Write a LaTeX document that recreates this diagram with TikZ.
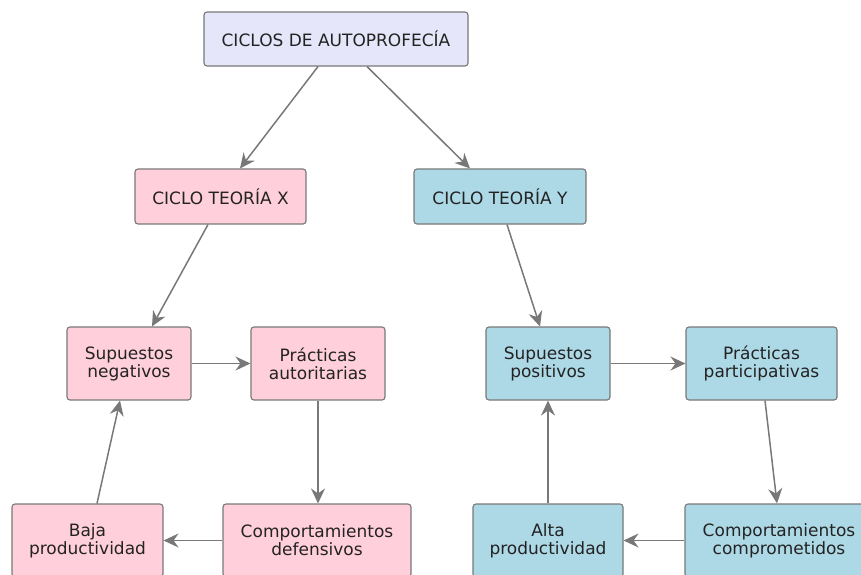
\documentclass[tikz,border=0pt]{standalone}
\usepackage{fontspec}
\setmainfont{DejaVu Sans}
\usetikzlibrary{arrows.meta}
\definecolor{lavbox}{RGB}{230,230,250}
\definecolor{pinkbox}{RGB}{255,207,219}
\definecolor{bluebox}{RGB}{173,216,230}
\definecolor{edgegray}{RGB}{120,120,120}
\definecolor{linegray}{RGB}{120,120,120}
\definecolor{txt}{RGB}{35,35,35}
\tikzset{
  box/.style={draw=edgegray, line width=1.1pt, rounded corners=3pt, align=center,
    inner sep=0pt, text=txt, font=\fontsize{17}{18}\selectfont},
  topbox/.style={box, fill=lavbox},
  xbox/.style={box, fill=pinkbox},
  ybox/.style={box, fill=bluebox},
  conn/.style={draw=linegray, line width=1.5pt,
    -{Stealth[length=15pt, width=14pt, inset=5pt]}}
}
\begin{document}
\begin{tikzpicture}[x=1pt, y=-1pt]
\useasboundingbox (0,0) rectangle (861,574);

% title
\node[topbox, minimum width=264pt, minimum height=54pt] (top) at (336,39) {CICLOS DE AUTOPROFECÍA};

% the two cycles
\node[xbox, minimum width=171pt, minimum height=55pt] (cx) at (220.5,196.5) {CICLO TEORÍA X};
\node[ybox, minimum width=172pt, minimum height=55pt] (cy) at (500,196.5) {CICLO TEORÍA Y};

% theory X loop
\node[xbox, minimum width=124pt, minimum height=73pt] (sn) at (129,363.5) {Supuestos\\negativos};
\node[xbox, minimum width=134pt, minimum height=73pt] (pa) at (318,363.5) {Prácticas\\autoritarias};
\node[xbox, minimum width=188pt, minimum height=73pt] (cd) at (317,540.5) {Comportamientos\\defensivos};
\node[xbox, minimum width=151pt, minimum height=73pt] (bp) at (87.5,540.5) {Baja\\productividad};

% theory Y loop
\node[ybox, minimum width=124pt, minimum height=73pt] (sp) at (548,363.5) {Supuestos\\positivos};
\node[ybox, minimum width=151pt, minimum height=73pt] (pp) at (761.5,363.5) {Prácticas\\participativas};
\node[ybox, minimum width=188pt, minimum height=73pt] (cc) at (779,540.5) {Comportamientos\\comprometidos};
\node[ybox, minimum width=150pt, minimum height=73pt] (ap) at (548,540.5) {Alta\\productividad};

% connectors
\draw[conn] ([xshift=-18pt]top.south) -- ([xshift=19.5pt]cx.north);
\draw[conn] ([xshift=31pt]top.south) -- ([xshift=-30pt]cy.north);
\draw[conn] ([xshift=-12.5pt]cx.south) -- ([xshift=23pt]sn.north);
\draw[conn] ([xshift=7pt]cy.south) -- ([xshift=-8pt]sp.north);

\draw[conn] (sn.east) -- (pa.west);
\draw[conn] (pa.south) -- (pa.south |- cd.north);
\draw[conn] (cd.west) -- (bp.east);
\draw[conn] ([xshift=9.5pt]bp.north) -- ([xshift=-9pt]sn.south);

\draw[conn] (sp.east) -- (pp.west);
\draw[conn] ([xshift=3.5pt]pp.south) -- ([xshift=-2pt]cc.north);
\draw[conn] (cc.west) -- (ap.east);
\draw[conn] (ap.north) -- (sp.south);
\end{tikzpicture}
\end{document}
